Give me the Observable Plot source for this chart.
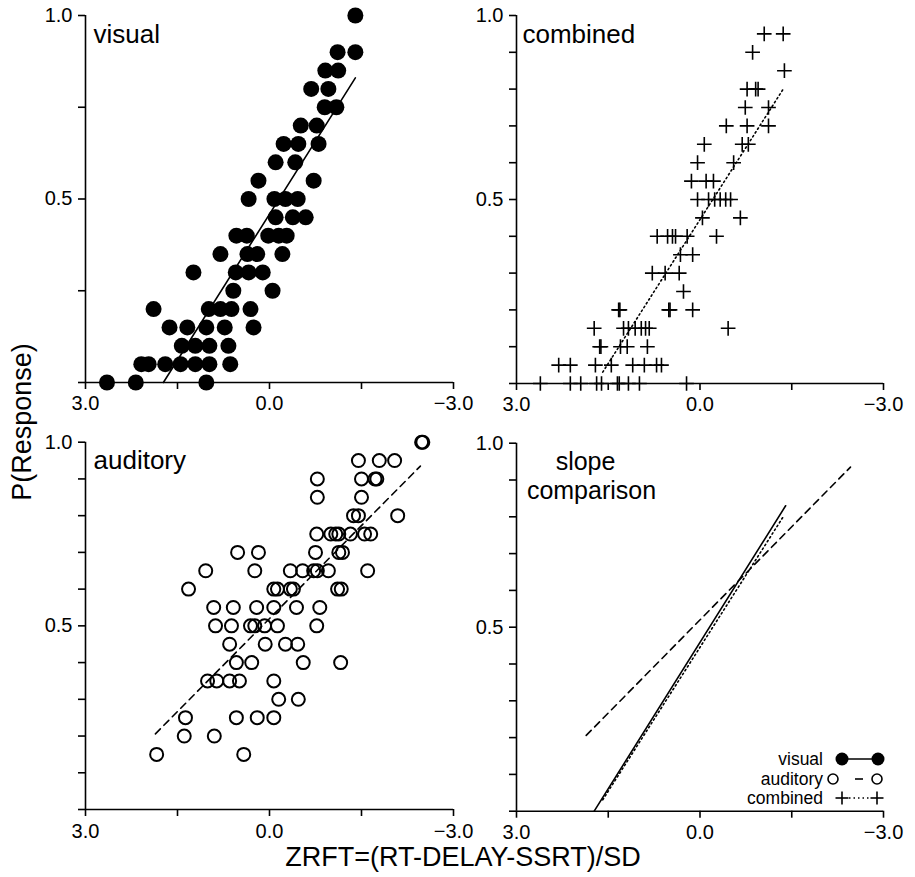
<!DOCTYPE html>
<html><head><meta charset="utf-8">
<script src="https://cdn.jsdelivr.net/npm/d3@7"></script>
<script src="https://cdn.jsdelivr.net/npm/@observablehq/plot@0.6"></script>
<style>
html,body{margin:0;padding:0;background:#fff;}
#chart{position:relative;width:915px;height:877px;font-family:"Liberation Sans",Arial,Helvetica,sans-serif;color:#000;}
.pane{position:absolute;}
#overlay{position:absolute;left:0;top:0;pointer-events:none;}
</style></head><body><div id="chart"></div>
<script>
// ---------- data ----------
// rows: [P(Response), [ZRFT values...]]
const visualRows = [
  [0.00, [2.65, 2.18, 1.03]],
  [0.05, [2.09, 1.97, 1.70, 1.45, 1.21, 0.98, 0.64]],
  [0.10, [1.43, 1.21, 0.98, 0.67]],
  [0.15, [1.63, 1.34, 1.03, 0.73, 0.26]],
  [0.20, [1.89, 0.99, 0.80, 0.62, 0.31]],
  [0.25, [0.59, -0.05]],
  [0.30, [1.24, 0.55, 0.34, 0.11]],
  [0.35, [0.80, 0.36, 0.20, -0.21]],
  [0.40, [0.54, 0.37, 0.02, -0.15, -0.28]],
  [0.45, [-0.10, -0.38, -0.59]],
  [0.50, [0.34, -0.08, -0.26, -0.46]],
  [0.55, [0.18, -0.72]],
  [0.60, [-0.10, -0.42]],
  [0.65, [-0.23, -0.47, -0.80]],
  [0.70, [-0.51, -0.77]],
  [0.75, [-0.90, -1.09]],
  [0.80, [-0.68, -0.96]],
  [0.85, [-0.91, -1.12]],
  [0.90, [-1.11, -1.40]],
  [1.00, [-1.40]]
];
const combinedRows = [
  [0.00, [2.61, 2.12, 1.95, 1.69, 1.61, 1.35, 1.32, 1.17, 0.99, 0.22]],
  [0.05, [2.31, 2.12, 1.71, 1.45, 1.10, 0.91, 0.71, 0.63]],
  [0.10, [1.64, 1.62, 1.30, 1.19, 0.86]],
  [0.15, [1.73, 1.25, 1.17, 1.06, 0.96, 0.89, 0.83, -0.46]],
  [0.20, [1.33, 1.31, 0.51, 0.49, 0.12]],
  [0.25, [0.27]],
  [0.30, [0.78, 0.57, 0.34]],
  [0.35, [0.32, 0.12]],
  [0.40, [0.70, 0.53, 0.45, 0.40, 0.21, -0.27]],
  [0.45, [-0.04, -0.66]],
  [0.50, [0.04, -0.14, -0.24, -0.33, -0.42, -0.50]],
  [0.55, [0.14, -0.10, -0.22]],
  [0.60, [0.04, -0.55]],
  [0.65, [-0.07, -0.69, -0.79]],
  [0.70, [-0.43, -0.77, -1.12]],
  [0.75, [-0.74, -1.12]],
  [0.80, [-0.77, -0.91, -0.95]],
  [0.85, [-1.38]],
  [0.90, [-0.86]],
  [0.95, [-1.05, -1.36]]
];
const auditoryRows = [
  [1.00, [-2.48, -2.50]],
  [0.95, [-1.45, -1.79, -2.04]],
  [0.90, [-0.78, -1.50, -1.72, -1.75]],
  [0.85, [-0.78, -1.50]],
  [0.80, [-1.37, -1.45, -2.09]],
  [0.75, [-0.77, -1.00, -1.08, -1.13, -1.32, -1.55, -1.65]],
  [0.70, [0.52, 0.18, -0.75, -1.13, -1.19]],
  [0.65, [1.04, 0.24, -0.34, -0.54, -0.72, -0.78, -0.96, -1.60]],
  [0.60, [1.32, -0.07, -0.13, -0.34, -0.39, -1.11, -1.17]],
  [0.55, [0.91, 0.59, 0.21, -0.07, -0.44, -0.82]],
  [0.50, [0.88, 0.62, 0.31, 0.24, 0.08, -0.13, -0.77]],
  [0.45, [0.65, 0.07, -0.26, -0.46]],
  [0.40, [0.54, 0.29, -0.55, -1.16]],
  [0.35, [1.01, 0.86, 0.65, 0.49, -0.07]],
  [0.30, [-0.15, -0.47]],
  [0.25, [1.37, 0.54, 0.20, -0.07]],
  [0.20, [1.39, 0.90]],
  [0.15, [1.84, 0.42]]
];
// fitted lines (end points)
const visualFitZ = [1.73, -1.40];
const visualFitP = [0.00, 0.83];
const auditoryFitZ = [1.86, -2.46];
const auditoryFitP = [0.206, 0.935];
const combinedFitZ = [1.59, -1.36];
const combinedFitP = [0.031, 0.80];

// axes
const xTicks = [3, 1.5, 0, -1.5, -3];
const xLabelValues = [3, 0, -3];
const xLabelTexts = ["3.0", "0.0", "\u22123.0"];
const yTicksCoarse = [0, 0.25, 0.5, 0.75, 1];
const yTicksFine = [0, 0.1, 0.2, 0.3, 0.4, 0.5, 0.6, 0.7, 0.8, 0.9, 1];
const yLabelValues = [0.5, 1];
const yLabelTexts = ["0.5", "1.0"];
const panelTitles = ["visual", "combined", "auditory", "slope", "comparison"];
const xTitle = "ZRFT=(RT-DELAY-SSRT)/SD";
const yTitle = "P(Response)";
const legendLabels = ["visual", "auditory", "combined"];

// ---------- helpers ----------
const FONT = '"Liberation Sans", Arial, Helvetica, sans-serif';
const flat = rows => rows.flatMap(([p, zs]) => zs.map(z => ({z, p})));
const fit = (zs, ps) => zs.map((z, i) => ({z, p: ps[i]}));
const fmtX = d => { const i = xLabelValues.indexOf(d); return i < 0 ? "" : xLabelTexts[i]; };
const fmtY = d => { const i = yLabelValues.indexOf(d); return i < 0 ? "" : yLabelTexts[i]; };

const visual = flat(visualRows), combined = flat(combinedRows), auditory = flat(auditoryRows);
const visualFit = fit(visualFitZ, visualFitP);
const auditoryFit = fit(auditoryFitZ, auditoryFitP);
const combinedFit = fit(combinedFitZ, combinedFitP);

const chart = document.getElementById("chart");

function panel(o) {
  const p = Plot.plot({
    width: o.width, height: o.height,
    marginLeft: o.ml, marginRight: o.mr, marginTop: o.mt, marginBottom: o.mb,
    x: {domain: [3, -3], axis: null},
    y: {domain: [0, 1], axis: null},
    style: {fontFamily: FONT, fontSize: "20px", background: "transparent", overflow: "visible", color: "black"},
    marks: [
      Plot.ruleY([0], {strokeWidth: 1.6}),
      Plot.ruleX([3], {strokeWidth: 1.6}),
      Plot.axisX(xTicks, {anchor: "bottom", tickSize: 7, tickPadding: o.xPad, tickFormat: fmtX, strokeWidth: 1.6, label: null}),
      Plot.axisY(o.yTicks, {anchor: "left", tickSize: 7, tickPadding: 6, tickFormat: fmtY, strokeWidth: 1.6, label: null}),
      ...o.marks
    ]
  });
  const div = document.createElement("div");
  div.className = "pane";
  div.style.left = o.left + "px";
  div.style.top = o.top + "px";
  div.style.width = o.width + "px";
  div.appendChild(p);
  chart.appendChild(div);
}

const title = (t, dx, dy, extra = {}) =>
  Plot.text([t], {text: d => d, frameAnchor: "top-left", textAnchor: "start", lineAnchor: "bottom",
                  dx, dy, fontSize: 26, fill: "black", ...extra});

// visual
panel({left: 0, top: 0, width: 457, height: 420, ml: 85, mr: 4, mt: 15, mb: 38, xPad: 6, yTicks: yTicksCoarse,
  marks: [
    Plot.line(visualFit, {x: "z", y: "p", stroke: "black", strokeWidth: 1.6}),
    Plot.dot(visual, {x: "z", y: "p", r: 8, fill: "black", stroke: "none"}),
    title(panelTitles[0], 8, 27)
  ]});
// combined
panel({left: 457, top: 0, width: 458, height: 420, ml: 59, mr: 32, mt: 15, mb: 37, xPad: 6, yTicks: yTicksFine,
  marks: [
    Plot.line(combinedFit, {x: "z", y: "p", stroke: "black", strokeWidth: 1.6, strokeDasharray: "1.5,3"}),
    Plot.dot(combined, {x: "z", y: "p", symbol: "plus", r: 4.8, stroke: "black", strokeWidth: 1.6}),
    title(panelTitles[1], 6, 27)
  ]});
// auditory
panel({left: 0, top: 420, width: 457, height: 457, ml: 85, mr: 4, mt: 21.7, mb: 68, xPad: 7, yTicks: yTicksFine,
  marks: [
    Plot.line(auditoryFit, {x: "z", y: "p", stroke: "black", strokeWidth: 1.6, strokeDasharray: "7,5"}),
    Plot.dot(auditory, {x: "z", y: "p", r: 6.5, fill: "none", stroke: "black", strokeWidth: 2}),
    title(panelTitles[2], 8, 26.3)
  ]});
// slope comparison
panel({left: 457, top: 420, width: 458, height: 457, ml: 59, mr: 32, mt: 22.7, mb: 66.3, xPad: 7, yTicks: yTicksFine,
  marks: [
    Plot.line(auditoryFit, {x: "z", y: "p", stroke: "black", strokeWidth: 1.6, strokeDasharray: "7,5"}),
    Plot.line(visualFit, {x: "z", y: "p", stroke: "black", strokeWidth: 1.6}),
    Plot.line(combinedFit, {x: "z", y: "p", stroke: "black", strokeWidth: 1.6, strokeDasharray: "1.5,3"}),
    title(panelTitles[3], 69, 26.5, {textAnchor: "middle", fontSize: 25}),
    title(panelTitles[4], 75, 55.5, {textAnchor: "middle", fontSize: 25})
  ]});

// ---------- overlay: axis titles + legend ----------
const svg = d3.select(chart).append("svg").attr("id", "overlay")
  .attr("width", 915).attr("height", 877)
  .style("font-family", FONT);
svg.append("text").attr("transform", "translate(31,422) rotate(-90)")
  .attr("text-anchor", "middle").attr("font-size", 27).text(yTitle);
svg.append("text").attr("x", 463).attr("y", 866)
  .attr("text-anchor", "middle").attr("font-size", 27).text(xTitle);

const lg = svg.append("g");
const rowY = [759, 779, 798];
const styles = ["solid", "dash", "dot"];
legendLabels.forEach((lab, i) => {
  const y = rowY[i];
  lg.append("text").attr("x", 823).attr("y", y + 6).attr("text-anchor", "end")
    .attr("font-size", 17.5).text(lab);
  if (styles[i] === "solid") {
    lg.append("line").attr("x1", 842).attr("x2", 878).attr("y1", y).attr("y2", y).attr("stroke", "black").attr("stroke-width", 1.6);
    [842, 878].forEach(x => lg.append("circle").attr("cx", x).attr("cy", y).attr("r", 6.5).attr("fill", "black"));
  } else if (styles[i] === "dash") {
    lg.append("line").attr("x1", 855).attr("x2", 863).attr("y1", y).attr("y2", y).attr("stroke", "black").attr("stroke-width", 1.6);
    [833, 877].forEach(x => lg.append("circle").attr("cx", x).attr("cy", y).attr("r", 5).attr("fill", "none").attr("stroke", "black").attr("stroke-width", 1.6));
  } else {
    lg.append("line").attr("x1", 849).attr("x2", 870).attr("y1", y).attr("y2", y).attr("stroke", "black").attr("stroke-width", 1.6).attr("stroke-dasharray", "1.5,3");
    [842, 877].forEach(x => {
      lg.append("line").attr("x1", x - 6.5).attr("x2", x + 6.5).attr("y1", y).attr("y2", y).attr("stroke", "black").attr("stroke-width", 1.6);
      lg.append("line").attr("x1", x).attr("x2", x).attr("y1", y - 6.5).attr("y2", y + 6.5).attr("stroke", "black").attr("stroke-width", 1.6);
    });
  }
});
</script></body></html>
